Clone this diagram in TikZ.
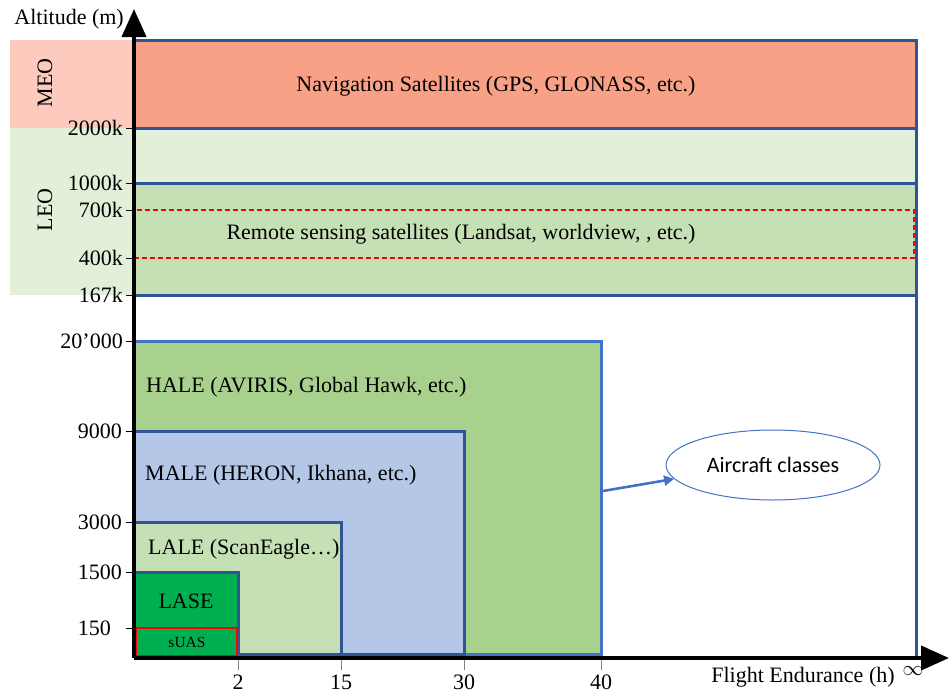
\documentclass[tikz,border=0pt]{standalone}
\usepackage{fontspec}
\setmainfont{Liberation Serif}
\newfontfamily\calib{Carlito}
\usetikzlibrary{arrows.meta,shapes.geometric}
\definecolor{meoband}{HTML}{FCCBBE}
\definecolor{navfill}{HTML}{F8A186}
\definecolor{leoband}{HTML}{E2F0D9}
\definecolor{leofill}{HTML}{C5E0B4}
\definecolor{halefill}{HTML}{A9D18E}
\definecolor{malefill}{HTML}{B4C7E7}
\definecolor{lalefill}{HTML}{C5E0B4}
\definecolor{lasefill}{HTML}{00B050}
\definecolor{darkblue}{HTML}{2F5597}
\definecolor{midblue}{HTML}{4472C4}
\begin{document}
\begin{tikzpicture}[x=1pt,y=-1pt,font=\fontsize{22}{25}\selectfont,
  band/.style={draw=darkblue,line width=3pt},
  lightband/.style={draw=midblue,line width=3pt},
  ticklbl/.style={anchor=east,inner sep=0pt},
  xlbl/.style={anchor=center,inner sep=0pt},
  classlbl/.style={anchor=west,inner sep=0pt},
  ytick/.style={line width=1pt},
  xtick/.style={line width=0.8pt,gray},
  axis/.style={line width=4pt,-{Triangle[width=24pt,length=28pt]}}]
\useasboundingbox (0,0) rectangle (951,694);
% left bands
\fill[meoband] (10,40) rectangle (134,128);
\fill[leoband] (10,128) rectangle (134,295);
% satellite areas
\fill[leoband] (134,128) rectangle (916,183);
\filldraw[fill=navfill,band] (134,40) rectangle (916,128);
\filldraw[fill=leofill,band] (134,183) rectangle (916,295);
\draw[band] (916,40) -- (916,658);
\draw[red,line width=1.6pt,dash pattern=on 5pt off 3pt] (134,210) rectangle (914,258);
% aircraft classes
\filldraw[fill=halefill,lightband] (134,341) rectangle (601,654);
\filldraw[fill=malefill,band] (134,431) rectangle (464,654);
\filldraw[fill=lalefill,band] (134,522) rectangle (341,654);
\filldraw[fill=lasefill,band] (134,572) rectangle (238,656);
\draw[red,line width=1.3pt] (136,628) rectangle (237,656);
% texts
\node[anchor=center,inner sep=0pt] (nav) at (496,86) {Navigation Satellites (GPS, GLONASS, etc.)};
\node[anchor=center,inner sep=0pt] (rs) at (461,234) {Remote sensing satellites (Landsat, worldview, , etc.)};
\node[classlbl] (hale) at (146,387) {HALE (AVIRIS, Global Hawk, etc.)};
\node[classlbl] (male) at (145,475) {MALE (HERON, Ikhana, etc.)};
\node[classlbl] (lale) at (148,549) {LALE (ScanEagle…)};
\node[anchor=center,inner sep=0pt] (lase) at (186,601) {LASE};
\node[anchor=center,inner sep=0pt,font=\fontsize{15.5}{17}\selectfont] (suas) at (187,642) {sUAS};
\node[rotate=90,inner sep=0pt] (meo) at (45,83) {MEO};
\node[rotate=90,inner sep=0pt] (leo) at (45,210) {LEO};
% axes
\coordinate (origin) at (134,658);
\coordinate (ytop) at (134,9);
\coordinate (xend) at (949,658);
\draw[axis] (origin) -- (ytop);
\draw[axis] (origin) -- (xend);
\node[ticklbl] (ylab) at (124,19) {Altitude (m)};
\node[xlbl] (xlab) at (803,677) {Flight Endurance (h)};
\node[xlbl] (inf) at (913,671) {$\infty$};
% y ticks
\foreach \yy/\lab/\xx in {128/2000k/123,183/1000k/123,210/700k/123,258/400k/123,295/167k/123,341/20’000/123,431/9000/122,522/3000/122,572/1500/122,628/150/111}{
  \draw[ytick] (126,\yy) -- (134,\yy);
  \node[ticklbl] at (\xx,\yy) {\lab};
}
% x ticks
\foreach \xx/\lab in {238/2,341/15,464/30,601/40}{
  \draw[xtick] (\xx,660) -- (\xx,670);
  \node[xlbl] at (\xx,682) {\lab};
}
% legend ellipse
\node[ellipse,draw=midblue,line width=1pt,minimum width=214pt,minimum height=70pt,font=\calib\fontsize{22}{25}\selectfont] (ac) at (773,465) {Aircraft classes};
\coordinate (haleR) at (603,491);
\draw[midblue,line width=2.6pt,-{Triangle[width=10pt,length=10pt]}] (haleR) -- (ac.188);
\end{tikzpicture}
\end{document}
